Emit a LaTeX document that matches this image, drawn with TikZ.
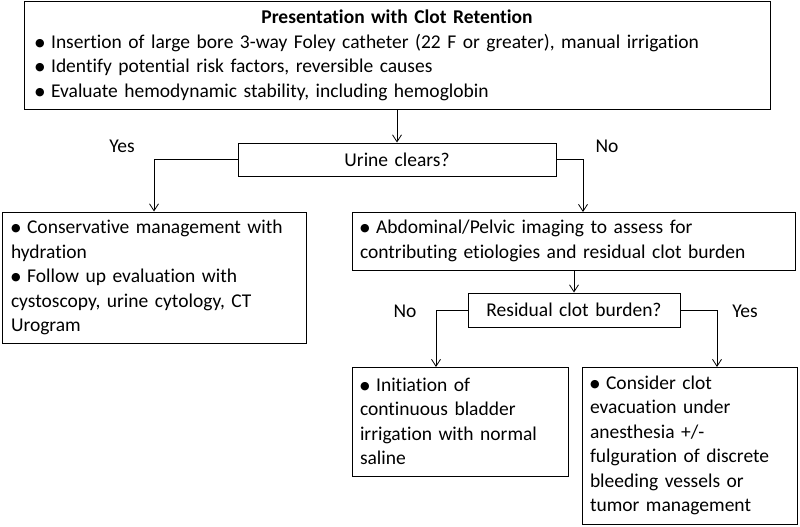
\documentclass[tikz,border=0pt]{standalone}
\usepackage{fontspec}
\setmainfont{Carlito}[Ligatures=NoCommon]
\newfontfamily\symfont{DejaVu Sans}
\usetikzlibrary{arrows.meta}
\begin{document}
\begin{tikzpicture}[x=1pt, y=-1pt,
		box/.style={draw, line width=1pt, inner xsep=8pt, inner ysep=0pt, align=left,
			font=\fontsize{19.5}{24.5}\selectfont},
		arr/.style={-{Straight Barb[length=7pt, width=9pt]}, line width=.8pt},
		answer/.style={font=\fontsize{19.5}{24.5}\selectfont}]
		\def\bul{\raisebox{2.2pt}{\symfont\fontsize{11}{11}\selectfont ●}\ }
		\useasboundingbox (0,0) rectangle (800,527);
		% decision boxes
		\node[box, inner xsep=11pt, text width=724pt, minimum height=107pt] (present) at (397,55.5)
			{\makebox[\linewidth][c]{\textbf{Presentation with Clot Retention}}\\
			\bul Insertion of large bore 3-way Foley catheter (22 F or greater), manual irrigation\\
			\bul Identify potential risk factors, reversible causes\\
			\bul Evaluate hemodynamic stability, including hemoglobin};
		\node[box, align=center, text width=302pt, minimum height=33pt] (clears) at (397,159.5) {Urine clears?};
		\node[box, inner xsep=9pt, text width=286pt, minimum height=131pt] (conserv) at (154,277.5)
			{\bul Conservative management with\\ hydration\\
			\bul Follow up evaluation with\\ cystoscopy, urine cytology, CT\\ Urogram};
		\node[box, text width=427pt, minimum height=58pt] (imaging) at (573.5,241)
			{\bul Abdominal/Pelvic imaging to assess for\\ contributing etiologies and residual clot burden};
		\node[box, align=center, text width=196pt, minimum height=34pt] (burden) at (574,310) {Residual clot burden?};
		\node[box, text width=200pt, minimum height=109pt] (cbi) at (460,421.5)
			{\bul Initiation of\\ continuous bladder\\ irrigation with normal\\ saline};
		\node[box, text width=199pt, minimum height=157pt] (evac) at (689.5,445.5)
			{\bul Consider clot\\ evacuation under\\ anesthesia +/-\\ fulguration of discrete\\ bleeding vessels or\\ tumor management};
		% off-centre arrow ends
		\coordinate (imagingIn) at (583,212);
		\coordinate (cbiIn) at (436,367);
		\coordinate (evacIn) at (717,367);
		% connectors
		\draw[arr] (present.south) -- (clears.north);
		\draw[arr] (clears.west) -| (conserv.north);
		\draw[arr] (clears.east) -| (imagingIn);
		\draw[arr] (imaging.south -| burden.north) -- (burden.north);
		\draw[arr] (burden.west) -| (cbiIn);
		\draw[arr] (burden.east) -| (evacIn);
		% yes / no labels
		\foreach \txt/\px/\py [count=\k] in {Yes/122/146, No/607/146, No/405/311, Yes/745/311}{
			\node[answer] (answer\k) at (\px,\py) {\txt};
		}
	\end{tikzpicture}
\end{document}
